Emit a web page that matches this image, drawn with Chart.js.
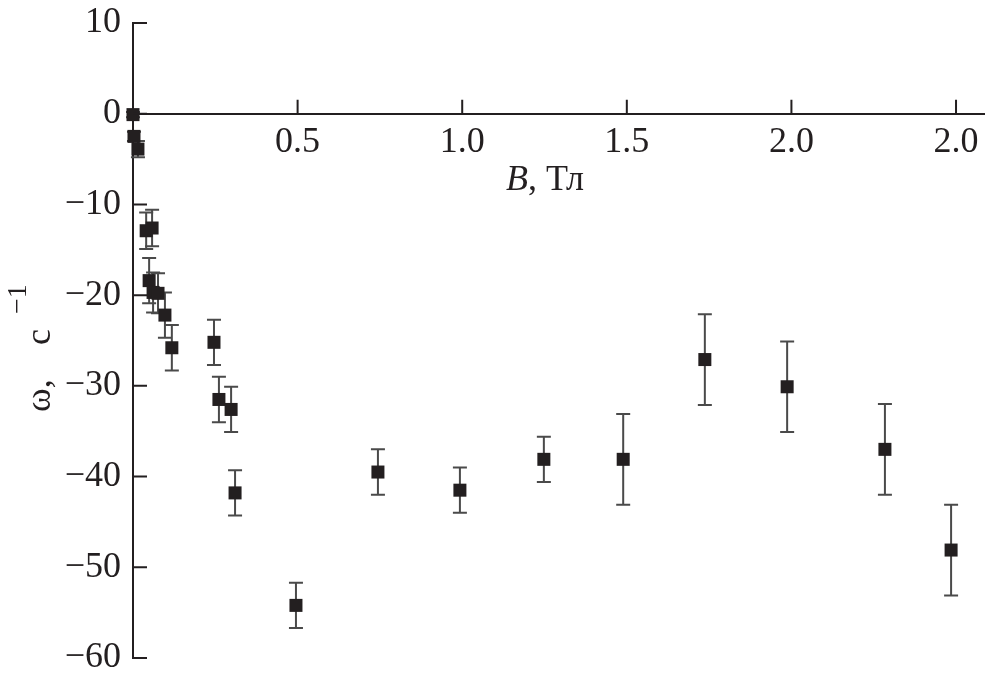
<!DOCTYPE html>
<html>
<head>
<meta charset="utf-8">
<script src="https://cdn.jsdelivr.net/npm/chart.js@4.4.0/dist/chart.umd.min.js"></script>
<style>
  html, body { margin: 0; padding: 0; background: #fff; }
  #wrap { width: 985px; height: 683px; }
</style>
</head>
<body>
<div id="wrap"><canvas id="myChart" width="985" height="683"></canvas></div>
<script>
// data
var fieldB   = [0, 0.003, 0.015, 0.04, 0.058, 0.049, 0.061, 0.076, 0.097, 0.118,
                0.246, 0.261, 0.298, 0.31, 0.495, 0.744, 0.993, 1.248, 1.489,
                1.737, 1.987, 2.284, 2.485];
var omega    = [-0.1, -2.5, -3.9, -12.9, -12.6, -18.4, -19.7, -19.8, -22.2, -25.8,
                -25.2, -31.5, -32.6, -41.8, -54.2, -39.5, -41.5, -38.1, -38.1,
                -27.1, -30.1, -37.0, -48.1];
var omegaErr = [0.3, 0.5, 0.9, 2.0, 2.0, 2.5, 2.2, 2.2, 2.5, 2.5,
                2.5, 2.5, 2.5, 2.5, 2.5, 2.5, 2.5, 2.5, 5.0,
                5.0, 5.0, 5.0, 5.0];
var xTickValues = [0.5, 1.0, 1.5, 2.0, 2.5];
var xTickLabels = ['0.5', '1.0', '1.5', '2.0', '2.0'];
var yTickValues = [10, 0, -10, -20, -30, -40, -50, -60];

var ink = '#231f20';
var serif = "'Liberation Serif', 'Times New Roman', serif";

var points = fieldB.map(function (b, i) { return { x: b, y: omega[i] }; });

// error bars, tick marks and axis titles
var decor = {
  id: 'decor',
  beforeDatasetsDraw: function (chart) {
    var ctx = chart.ctx, xs = chart.scales.x, ys = chart.scales.y;
    ctx.save();
    ctx.strokeStyle = '#4a4a4a';
    ctx.lineWidth = 2;
    points.forEach(function (p, i) {
      var px = xs.getPixelForValue(p.x);
      var top = ys.getPixelForValue(p.y + omegaErr[i]);
      var bot = ys.getPixelForValue(p.y - omegaErr[i]);
      ctx.beginPath();
      ctx.moveTo(px, top); ctx.lineTo(px, bot);
      ctx.moveTo(px - 7, top); ctx.lineTo(px + 7, top);
      ctx.moveTo(px - 7, bot); ctx.lineTo(px + 7, bot);
      ctx.stroke();
    });
    ctx.restore();
  },
  afterDraw: function (chart) {
    var ctx = chart.ctx, xs = chart.scales.x, ys = chart.scales.y;
    var left = chart.chartArea.left;
    var y0 = ys.getPixelForValue(0);
    ctx.save();
    ctx.strokeStyle = ink;
    ctx.lineWidth = 2;
    ctx.beginPath();
    yTickValues.forEach(function (v) {
      var py = ys.getPixelForValue(v);
      ctx.moveTo(left, py); ctx.lineTo(left + 14, py);
    });
    xTickValues.forEach(function (v) {
      var px = xs.getPixelForValue(v);
      ctx.moveTo(px, y0); ctx.lineTo(px, y0 - 14);
    });
    ctx.stroke();

    // x title: B, Тл
    ctx.fillStyle = ink;
    ctx.textBaseline = 'alphabetic';
    ctx.textAlign = 'left';
    ctx.font = 'italic 36px ' + serif;
    var wB = ctx.measureText('B').width;
    ctx.font = '36px ' + serif;
    var wRest = ctx.measureText(', Тл').width;
    var tx = 545 - (wB + wRest) / 2;
    ctx.font = 'italic 36px ' + serif;
    ctx.fillText('B', tx, 190);
    ctx.font = '36px ' + serif;
    ctx.fillText(', Тл', tx + wB, 190);

    // y title: ω, с^-1 (rotated)
    ctx.translate(50, 346);
    ctx.rotate(-Math.PI / 2);
    ctx.font = '36px ' + serif;
    ctx.fillText('ω,', -66, 0);
    ctx.fillText('с', 1, 0);
    ctx.font = '28px ' + serif;
    ctx.fillText('\u22121', 32, -24);
    ctx.restore();
  }
};

var ctx = document.getElementById('myChart').getContext('2d');
var myChart = new Chart(ctx, {
  type: 'scatter',
  data: {
    datasets: [{
      label: 'omega',
      data: points,
      clip: false,
      pointStyle: 'rect',
      pointRadius: 9.2,
      pointHoverRadius: 9.2,
      backgroundColor: ink,
      borderColor: ink,
      borderWidth: 0
    }]
  },
  options: {
    responsive: false,
    animation: false,
    events: [],
    layout: { autoPadding: false, padding: { top: 23, bottom: 25, left: 0, right: 0 } },
    plugins: { legend: { display: false }, tooltip: { enabled: false } },
    scales: {
      x: {
        type: 'linear',
        min: 0,
        max: 2.588,
        position: { y: 0 },
        grid: { display: false, drawTicks: false },
        border: { display: true, color: ink, width: 2 },
        afterFit: function (s) {
          s.paddingLeft = 0; s.paddingRight = 0;
          s.paddingTop = 0; s.paddingBottom = 0;
        },
        afterBuildTicks: function (s) {
          s.ticks = xTickValues.map(function (v) { return { value: v }; });
        },
        ticks: {
          padding: 7,
          maxRotation: 0,
          autoSkip: false,
          color: ink,
          font: { family: serif, size: 36 },
          callback: function (v) {
            var i = xTickValues.indexOf(v);
            return i >= 0 ? xTickLabels[i] : '';
          }
        }
      },
      y: {
        type: 'linear',
        min: -60,
        max: 10,
        grid: { display: false, drawTicks: false },
        border: { display: true, color: ink, width: 2 },
        afterFit: function (s) {
          s.width = 133;
          s.paddingTop = 0; s.paddingBottom = 0;
        },
        afterBuildTicks: function (s) {
          s.ticks = yTickValues.map(function (v) { return { value: v }; });
        },
        ticks: {
          padding: 12,
          color: ink,
          font: { family: serif, size: 36 },
          callback: function (v) { return v < 0 ? '\u2212' + Math.abs(v) : String(v); }
        }
      }
    }
  },
  plugins: [decor]
});
</script>
</body>
</html>
